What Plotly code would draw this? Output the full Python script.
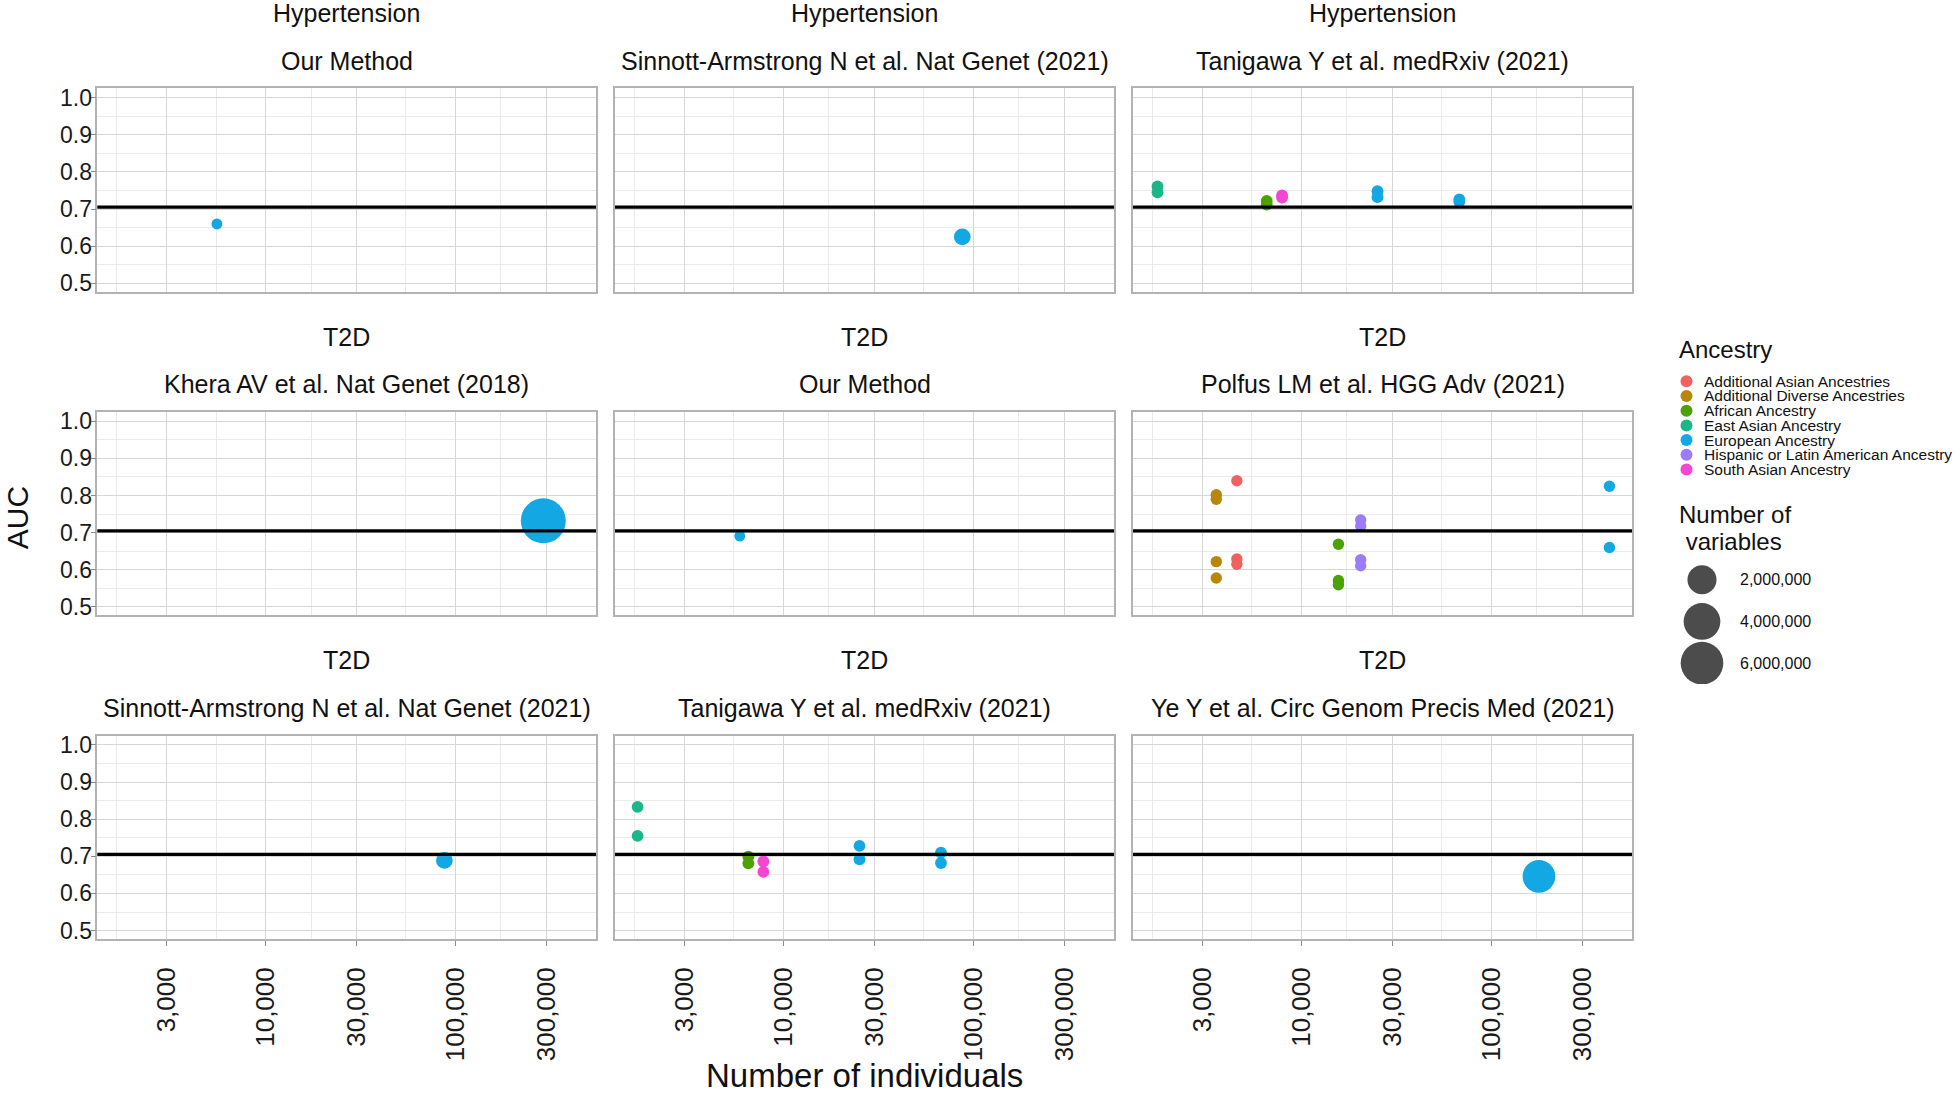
import math
import plotly.graph_objects as go

# ---------------- data ----------------
panel_traits = ["Hypertension", "Hypertension", "Hypertension",
                "T2D", "T2D", "T2D",
                "T2D", "T2D", "T2D"]
panel_methods = ["Our Method",
                 "Sinnott-Armstrong N et al. Nat Genet (2021)",
                 "Tanigawa Y et al. medRxiv (2021)",
                 "Khera AV et al. Nat Genet (2018)",
                 "Our Method",
                 "Polfus LM et al. HGG Adv (2021)",
                 "Sinnott-Armstrong N et al. Nat Genet (2021)",
                 "Tanigawa Y et al. medRxiv (2021)",
                 "Ye Y et al. Circ Genom Precis Med (2021)"]

ancestries = ["Additional Asian Ancestries", "Additional Diverse Ancestries",
              "African Ancestry", "East Asian Ancestry", "European Ancestry",
              "Hispanic or Latin American Ancestry", "South Asian Ancestry"]
ancestry_colors = ["#F1615F", "#B8860B", "#4AA302", "#1BB68A",
                   "#13A8E3", "#9B7CFB", "#F545D3"]

# one row per point: panel index, ancestry, individuals, AUC, number of variables
point_panel = [0,
               1,
               2, 2, 2, 2, 2, 2, 2, 2, 2, 2,
               3,
               4,
               5, 5, 5, 5, 5, 5, 5, 5, 5, 5, 5, 5, 5, 5, 5, 5,
               6,
               7, 7, 7, 7, 7, 7, 7, 7, 7, 7,
               8]
point_ancestry = ["European Ancestry",
                  "European Ancestry",
                  "East Asian Ancestry", "East Asian Ancestry",
                  "African Ancestry", "African Ancestry",
                  "South Asian Ancestry", "South Asian Ancestry",
                  "European Ancestry", "European Ancestry",
                  "European Ancestry", "European Ancestry",
                  "European Ancestry",
                  "European Ancestry",
                  "Additional Asian Ancestries", "Additional Asian Ancestries", "Additional Asian Ancestries",
                  "Additional Diverse Ancestries", "Additional Diverse Ancestries",
                  "Additional Diverse Ancestries", "Additional Diverse Ancestries",
                  "African Ancestry", "African Ancestry", "African Ancestry",
                  "Hispanic or Latin American Ancestry", "Hispanic or Latin American Ancestry",
                  "Hispanic or Latin American Ancestry", "Hispanic or Latin American Ancestry",
                  "European Ancestry", "European Ancestry",
                  "European Ancestry",
                  "East Asian Ancestry", "East Asian Ancestry",
                  "African Ancestry", "African Ancestry",
                  "South Asian Ancestry", "South Asian Ancestry",
                  "European Ancestry", "European Ancestry",
                  "European Ancestry", "European Ancestry",
                  "European Ancestry"]
point_n = [5527,
           87300,
           1742, 1742, 6550, 6550, 7890, 7890, 25100, 25100, 67700, 67700,
           290000,
           5877,
           4560, 4560, 4560, 3554, 3554, 3554, 3554, 15630, 15630, 15630,
           20470, 20470, 20470, 20470, 418000, 418000,
           87300,
           1702, 1702, 6520, 6520, 7820, 7820, 25100, 25100, 67400, 67400,
           177800]
point_auc = [0.660,
             0.625,
             0.761, 0.745, 0.722, 0.712, 0.737, 0.731, 0.748, 0.732, 0.726, 0.720,
             0.732,
             0.691,
             0.840, 0.629, 0.615, 0.802, 0.790, 0.622, 0.578, 0.669, 0.571, 0.560,
             0.734, 0.718, 0.627, 0.611, 0.825, 0.660,
             0.689,
             0.833, 0.755, 0.699, 0.681, 0.686, 0.658, 0.728, 0.692, 0.710, 0.682,
             0.646]
point_nvar = [1000,
              220000,
              10000, 10000, 10000, 10000, 10000, 10000, 10000, 10000, 10000, 10000,
              6917436,
              1000,
              5000, 5000, 5000, 5000, 5000, 5000, 5000, 5000, 5000, 5000,
              5000, 5000, 5000, 5000, 5000, 5000,
              220000,
              10000, 10000, 10000, 10000, 10000, 10000, 10000, 10000, 10000, 10000,
              2850000]

x_tick_values = [3000, 10000, 30000, 100000, 300000]
x_tick_labels = ["3,000", "10,000", "30,000", "100,000", "300,000"]
x_minor_values = [1643, 5477, 17321, 54772, 173205, 547723]
y_tick_values = [0.5, 0.6, 0.7, 0.8, 0.9, 1.0]
y_tick_labels = ["0.5", "0.6", "0.7", "0.8", "0.9", "1.0"]
y_minor_values = [0.55, 0.65, 0.75, 0.85, 0.95]
reference_auc = 0.705

size_legend_values = [2000000, 4000000, 6000000]
size_legend_labels = ["2,000,000", "4,000,000", "6,000,000"]

# ---------------- styling / geometry ----------------
W, H = 1960, 1094
FONT = "Liberation Sans, Arial, Helvetica, sans-serif"
col_px = [(97.3, 596.0), (615.0, 1114.0), (1133.0, 1632.0)]
row_px = [(85.0, 290.0), (411.0, 616.0), (737.0, 942.0)]
x_range = [3.112, 5.740]
y_range = [0.477, 1.025]
MAJOR_GRID = "#D6D6D6"
MINOR_GRID = "#EBEBEB"
BORDER = "#B3B3B3"
TEXT = "#111111"

vmax = max(point_nvar)


def marker_diameter(v):
    return 10.5 + 34.5 * math.sqrt(v / vmax)


def px_x(p):
    return p / W


def px_y(p):
    return 1 - p / H


color_of = dict(zip(ancestries, ancestry_colors))

fig = go.Figure()
layout = dict(width=W, height=H, autosize=False,
              margin=dict(l=0, r=0, t=0, b=0, pad=0),
              paper_bgcolor="white", plot_bgcolor="white",
              showlegend=False,
              font=dict(family=FONT, color="#000000"))
annotations = []
shapes = []

for i in range(9):
    r, c = divmod(i, 3)
    ax = "" if i == 0 else str(i + 1)
    xa, ya = "x" + ax, "y" + ax
    bottom = (r == 2)
    left = (c == 0)
    layout["xaxis" + ax] = dict(
        type="log", range=x_range, domain=[px_x(col_px[c][0]), px_x(col_px[c][1])],
        anchor=ya, tickmode="array", tickvals=x_tick_values, ticktext=x_tick_labels,
        showticklabels=bottom, ticks="outside" if bottom else "", ticklen=5,
        tickcolor="#8C8C8C", tickwidth=1.2, tickangle=-90,
        tickfont=dict(size=26, color="#1A1A1A", family=FONT), ticklabelstandoff=11,
        showgrid=True, gridcolor=MAJOR_GRID, gridwidth=1.3,
        minor=dict(tickmode="array", tickvals=x_minor_values, showgrid=True,
                   gridcolor=MINOR_GRID, gridwidth=1.0, ticks=""),
        showline=True, mirror=True, linecolor=BORDER, linewidth=1.5,
        zeroline=False, fixedrange=True)
    layout["yaxis" + ax] = dict(
        range=y_range, domain=[px_y(row_px[r][1]), px_y(row_px[r][0])],
        anchor=xa, tickmode="array", tickvals=y_tick_values, ticktext=y_tick_labels,
        showticklabels=left, ticks="outside" if left else "", ticklen=5,
        tickcolor="#8C8C8C", tickwidth=1.2,
        tickfont=dict(size=23, color="#1A1A1A", family=FONT), ticklabelstandoff=-6,
        showgrid=True, gridcolor=MAJOR_GRID, gridwidth=1.3,
        minor=dict(tickmode="array", tickvals=y_minor_values, showgrid=True,
                   gridcolor=MINOR_GRID, gridwidth=1.0, ticks=""),
        showline=True, mirror=True, linecolor=BORDER, linewidth=1.5,
        zeroline=False, fixedrange=True)

    # reference line
    shapes.append(dict(type="line", xref=xa + " domain", yref=ya,
                       x0=0, x1=1, y0=reference_auc, y1=reference_auc,
                       line=dict(color="black", width=3.2), layer="above"))

    # points, one trace per ancestry
    for anc in ancestries:
        idx = [k for k in range(len(point_panel))
               if point_panel[k] == i and point_ancestry[k] == anc]
        if not idx:
            continue
        fig.add_trace(go.Scatter(
            x=[point_n[k] for k in idx], y=[point_auc[k] for k in idx],
            xaxis=xa, yaxis=ya, mode="markers", name=anc,
            marker=dict(color=color_of[anc],
                        size=[marker_diameter(point_nvar[k]) for k in idx],
                        line=dict(width=0), opacity=1),
            hovertemplate="%{x:,}<br>AUC %{y:.3f}<extra>" + anc + "</extra>"))

    # strip labels
    cx = (col_px[c][0] + col_px[c][1]) / 2
    top = row_px[r][0]
    annotations.append(dict(text=panel_traits[i], x=px_x(cx), y=px_y(top - 76),
                            xref="paper", yref="paper", showarrow=False,
                            xanchor="center", yanchor="middle",
                            font=dict(size=25, family=FONT, color=TEXT)))
    annotations.append(dict(text=panel_methods[i], x=px_x(cx), y=px_y(top - 28),
                            xref="paper", yref="paper", showarrow=False,
                            xanchor="center", yanchor="middle",
                            font=dict(size=25, family=FONT, color=TEXT)))

# ---------- Ancestry legend (small categorical panel) ----------
fig.add_trace(go.Scatter(
    x=[0] * len(ancestries), y=ancestries, xaxis="x10", yaxis="y10",
    mode="markers", marker=dict(color=ancestry_colors, size=12, line=dict(width=0)),
    hoverinfo="skip"))
layout["xaxis10"] = dict(domain=[px_x(1680), px_x(1693)], range=[-1, 1], anchor="y10",
                         visible=False, fixedrange=True)
layout["yaxis10"] = dict(domain=[px_y(476.4), px_y(372.6)], anchor="x10",
                         type="category", categoryorder="array", categoryarray=ancestries,
                         tickmode="array", tickvals=ancestries, ticktext=ancestries,
                         range=[len(ancestries) - 0.5, -0.5], side="right",
                         showgrid=False, zeroline=False, showline=False, ticks="",
                         tickfont=dict(size=15.5, family=FONT, color=TEXT),
                         ticklabelstandoff=10, fixedrange=True)

# ---------- Size legend ----------
fig.add_trace(go.Scatter(
    x=[0] * len(size_legend_values), y=size_legend_labels, xaxis="x11", yaxis="y11",
    mode="markers",
    marker=dict(color="black", size=[marker_diameter(v) for v in size_legend_values],
                line=dict(width=0)),
    hoverinfo="skip"))
layout["xaxis11"] = dict(domain=[px_x(1669), px_x(1735)], range=[-1, 1], anchor="y11",
                         visible=False, fixedrange=True)
layout["yaxis11"] = dict(domain=[px_y(685), px_y(559)], anchor="x11",
                         type="category", categoryorder="array",
                         categoryarray=size_legend_labels,
                         tickmode="array", tickvals=size_legend_labels, ticktext=size_legend_labels,
                         range=[len(size_legend_labels) - 0.5, -0.5], side="right",
                         showgrid=False, zeroline=False, showline=False, ticks="",
                         tickfont=dict(size=16, family=FONT, color=TEXT),
                         ticklabelstandoff=4, fixedrange=True)

# legend titles
annotations.append(dict(text="Ancestry", x=px_x(1677), y=px_y(348), xref="paper", yref="paper",
                        showarrow=False, xanchor="left", yanchor="middle",
                        font=dict(size=24, family=FONT, color=TEXT)))
annotations.append(dict(text="Number of", x=px_x(1677), y=px_y(514), xref="paper", yref="paper",
                        showarrow=False, xanchor="left", yanchor="middle",
                        font=dict(size=24, family=FONT, color=TEXT)))
annotations.append(dict(text="\u00a0variables", x=px_x(1677), y=px_y(541), xref="paper", yref="paper",
                        showarrow=False, xanchor="left", yanchor="middle",
                        font=dict(size=24, family=FONT, color=TEXT)))

# axis titles
annotations.append(dict(text="Number of individuals", x=px_x(864.5), y=px_y(1079),
                        xref="paper", yref="paper", showarrow=False,
                        xanchor="center", yanchor="middle",
                        font=dict(size=33, family=FONT, color=TEXT)))
annotations.append(dict(text="AUC", x=px_x(17), y=px_y(518), textangle=-90,
                        xref="paper", yref="paper", showarrow=False,
                        xanchor="center", yanchor="middle",
                        font=dict(size=30, family=FONT, color=TEXT)))

layout["annotations"] = annotations
layout["shapes"] = shapes
fig.update_layout(**layout)

fig.write_html("out.html",
               config={"displayModeBar": False},
               post_script="document.body.style.margin='0';document.body.style.padding='0';"
                           "document.body.style.overflow='hidden';")
